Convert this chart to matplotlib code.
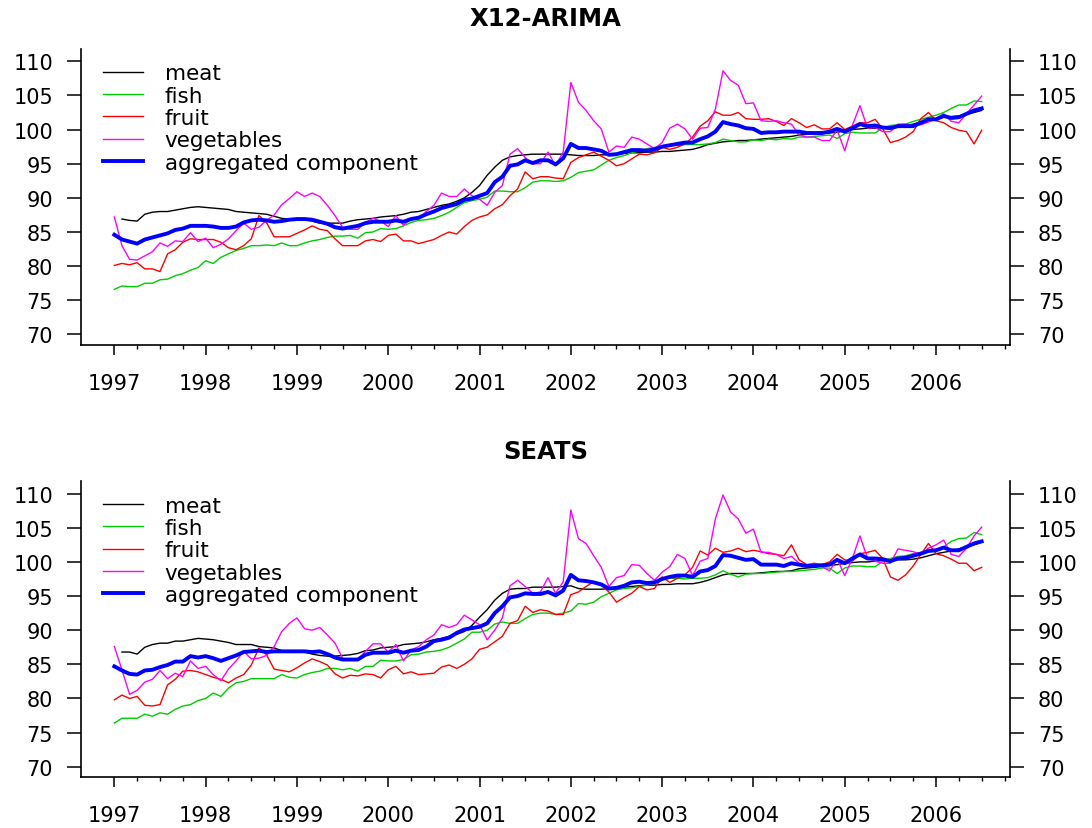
import matplotlib.pyplot as plt
import numpy as np

nan = np.nan

# monthly values, Jan 1997 .. Jul 2006 (115 months)
meat_x12 = [nan, 86.9, 86.7, 86.6, 87.6, 87.9, 88.0, 88.0, 88.2, 88.4, 88.6, 88.7,
            88.6, 88.5, 88.4, 88.3, 88.0, 87.9, 87.8, 87.7, 87.6, 87.3, 87.0, 86.9,
            86.9, 86.8, 86.6, 86.3, 86.3, 86.3, 86.3, 86.6, 86.8, 86.9, 87.0, 87.2,
            87.3, 87.4, 87.6, 87.9, 88.0, 88.3, 88.6, 88.9, 89.1, 89.5, 90.0, 90.8,
            91.8, 93.3, 94.5, 95.5, 96.0, 96.2, 96.3, 96.4, 96.4, 96.4, 96.4, 96.4,
            96.3, 96.2, 96.2, 96.2, 96.3, 96.3, 96.4, 96.5, 96.6, 96.6, 96.7, 96.7,
            96.8, 96.8, 96.9, 97.0, 97.1, 97.4, 97.8, 98.0, 98.2, 98.3, 98.4, 98.4,
            98.5, 98.6, 98.7, 98.8, 98.9, 99.0, 99.2, 99.3, 99.4, 99.4, 99.5, 99.6,
            99.8, 100.0, 100.1, 100.2, 100.2, 100.3, 100.4, 100.5, 100.6, 100.8, 101.1, 101.4,
            101.6, 101.8, 101.9, 102.0, 102.2, 102.5, 102.8]
fish_x12 = [76.6, 77.1, 77.0, 77.0, 77.5, 77.5, 78.0, 78.1, 78.6, 78.9, 79.4, 79.8,
            80.8, 80.4, 81.3, 81.8, 82.3, 82.6, 83.0, 83.0, 83.1, 83.0, 83.4, 83.0,
            83.0, 83.4, 83.7, 83.9, 84.2, 84.4, 84.4, 84.5, 84.1, 84.9, 85.0, 85.5,
            85.4, 85.5, 85.9, 86.4, 86.7, 86.8, 87.0, 87.4, 87.9, 88.6, 89.3, 89.6,
            89.8, 90.1, 91.0, 91.0, 90.9, 90.9, 91.5, 92.3, 92.5, 92.5, 92.4, 92.5,
            93.0, 93.7, 93.9, 94.1, 94.8, 95.5, 95.9, 96.2, 96.6, 96.9, 97.2, 97.4,
            97.6, 97.7, 97.7, 97.8, 97.8, 97.8, 97.9, 98.1, 98.6, 98.4, 98.2, 98.2,
            98.5, 98.4, 98.6, 98.5, 98.7, 98.6, 98.9, 98.9, 99.0, 99.1, 99.2, 98.7,
            99.4, 99.6, 99.5, 99.5, 99.5, 100.3, 100.6, 100.7, 100.8, 101.2, 101.5, 101.8,
            102.1, 102.5, 103.1, 103.6, 103.6, 104.2, 104.1]
fruit_x12 = [80.1, 80.4, 80.2, 80.5, 79.6, 79.6, 79.2, 81.8, 82.4, 83.5, 84.0, 83.9,
             83.9, 83.9, 83.5, 82.7, 82.4, 83.0, 84.0, 87.4, 86.4, 84.3, 84.3, 84.3,
             84.8, 85.3, 85.9, 85.4, 85.2, 84.0, 83.0, 83.0, 83.0, 83.7, 83.9, 83.6,
             84.5, 84.7, 83.7, 83.7, 83.3, 83.6, 83.9, 84.5, 85.0, 84.7, 85.8, 86.7,
             87.2, 87.5, 88.4, 89.0, 90.3, 91.3, 93.8, 92.8, 93.1, 93.1, 92.9, 92.8,
             95.2, 95.9, 96.3, 96.7, 96.1, 95.5, 94.7, 95.0, 95.7, 96.4, 96.3, 96.6,
             97.4, 97.1, 97.4, 97.9, 98.9, 100.5, 101.3, 102.6, 102.1, 102.1, 102.5, 101.6,
             101.5, 101.5, 101.6, 101.2, 100.6, 101.6, 101.0, 100.3, 100.7, 100.1, 100.1, 101.0,
             100.0, 100.5, 101.0, 101.0, 101.5, 100.1, 98.1, 98.4, 98.9, 99.7, 101.6, 102.5,
             101.3, 101.0, 100.3, 99.9, 99.7, 97.9, 99.9]
veg_x12 = [87.2, 83.0, 81.0, 80.9, 81.5, 82.1, 83.4, 82.9, 83.7, 83.6, 84.9, 83.6,
           84.1, 82.7, 83.2, 84.0, 85.2, 86.3, 85.4, 85.7, 86.7, 87.5, 89.0, 89.9,
           90.9, 90.2, 90.7, 90.2, 88.9, 87.4, 85.7, 85.4, 85.4, 86.4, 87.0, 86.6,
           85.8, 87.4, 86.0, 86.9, 86.9, 88.0, 88.9, 90.7, 90.2, 90.2, 91.3, 90.3,
           89.8, 88.9, 90.8, 91.8, 96.4, 97.2, 95.9, 95.0, 95.0, 96.7, 94.7, 96.7,
           106.9, 104.0, 102.8, 101.3, 100.1, 96.7, 97.6, 97.4, 98.9, 98.6, 97.9, 97.2,
           98.1, 100.2, 100.8, 100.1, 98.6, 100.2, 100.3, 103.0, 108.6, 107.2, 106.5, 103.8,
           103.9, 101.3, 101.2, 101.3, 101.0, 100.8, 99.2, 98.9, 98.9, 98.4, 98.4, 99.9,
           96.9, 100.6, 103.5, 100.2, 100.3, 99.7, 99.7, 100.8, 100.8, 100.6, 100.7, 101.1,
           101.6, 102.3, 101.2, 101.0, 102.3, 103.6, 104.9]
agg_x12 = [84.6, 83.9, 83.6, 83.3, 83.9, 84.2, 84.5, 84.8, 85.3, 85.5, 85.9, 85.9,
           85.9, 85.8, 85.6, 85.6, 85.8, 86.4, 86.7, 86.8, 86.7, 86.5, 86.6, 86.8,
           86.9, 86.9, 86.8, 86.5, 86.2, 85.7, 85.5, 85.7, 85.9, 86.3, 86.5, 86.5,
           86.5, 86.7, 86.5, 86.9, 87.1, 87.6, 88.0, 88.5, 88.8, 89.1, 89.7, 89.9,
           90.3, 90.7, 92.3, 93.1, 94.7, 94.9, 95.5, 95.1, 95.5, 95.5, 94.9, 95.8,
           97.9, 97.3, 97.3, 97.1, 96.9, 96.3, 96.4, 96.7, 97.0, 97.0, 96.9, 97.1,
           97.5, 97.7, 97.9, 98.1, 98.1, 98.6, 99.0, 99.7, 101.1, 100.8, 100.6, 100.2,
           100.1, 99.5, 99.6, 99.6, 99.7, 99.7, 99.7, 99.5, 99.5, 99.5, 99.7, 100.1,
           99.7, 100.2, 100.8, 100.5, 100.6, 100.3, 100.2, 100.5, 100.5, 100.5, 101.0, 101.5,
           101.5, 102.0, 101.7, 101.8, 102.3, 102.8, 103.1]

meat_seats = [nan, 86.8, 86.8, 86.5, 87.5, 87.9, 88.1, 88.1, 88.4, 88.4, 88.6, 88.8,
              88.7, 88.6, 88.4, 88.2, 87.9, 87.9, 87.9, 87.6, 87.5, 87.4, 87.0, 86.9,
              86.9, 86.8, 86.5, 86.3, 86.2, 86.2, 86.3, 86.4, 86.6, 87.0, 87.1, 87.4,
              87.5, 87.6, 87.9, 88.0, 88.1, 88.3, 88.6, 88.8, 89.1, 89.4, 89.8, 90.7,
              91.9, 93.0, 94.4, 95.4, 96.0, 96.1, 96.1, 96.3, 96.3, 96.3, 96.3, 96.4,
              96.5, 96.1, 96.0, 96.0, 96.0, 96.1, 96.2, 96.3, 96.4, 96.5, 96.6, 96.6,
              96.7, 96.7, 96.8, 96.8, 96.8, 97.0, 97.3, 97.7, 98.1, 98.3, 98.3, 98.3,
              98.3, 98.4, 98.5, 98.6, 98.6, 98.7, 99.0, 99.1, 99.2, 99.4, 99.5, 99.6,
              99.8, 99.9, 100.0, 100.0, 100.1, 100.2, 100.3, 100.3, 100.3, 100.4, 100.6, 100.9,
              101.2, 101.4, 101.6, 101.9, 102.2, 102.5, 102.9]
fish_seats = [76.4, 77.1, 77.1, 77.1, 77.7, 77.4, 77.9, 77.7, 78.4, 78.9, 79.1, 79.7,
              80.0, 80.8, 80.3, 81.5, 82.3, 82.5, 82.9, 82.9, 82.9, 82.9, 83.5, 83.1,
              83.0, 83.5, 83.8, 84.0, 84.4, 84.4, 84.2, 84.4, 84.0, 84.7, 84.7, 85.6,
              85.5, 85.5, 85.7, 86.4, 86.5, 86.8, 86.9, 87.1, 87.5, 88.1, 88.7, 89.7,
              89.7, 90.0, 90.9, 91.2, 91.0, 91.0, 91.7, 92.3, 92.5, 92.5, 92.3, 92.5,
              92.8, 93.9, 93.8, 94.1, 94.9, 95.4, 95.9, 96.1, 96.2, 96.4, 96.6, 96.9,
              97.5, 97.6, 97.6, 97.5, 97.6, 97.6, 97.7, 98.1, 98.7, 98.2, 97.8, 98.2,
              98.3, 98.3, 98.4, 98.5, 98.6, 98.6, 98.7, 98.8, 98.9, 99.1, 99.1, 98.3,
              99.1, 99.4, 99.4, 99.3, 99.3, 100.1, 100.5, 100.8, 100.9, 101.2, 101.4, 101.5,
              101.7, 102.2, 103.0, 103.4, 103.5, 104.3, 104.0]
fruit_seats = [79.8, 80.5, 80.0, 80.3, 79.0, 78.9, 79.1, 82.0, 82.8, 84.0, 84.1, 83.9,
               83.5, 83.1, 82.8, 82.3, 83.0, 83.5, 84.9, 87.4, 86.4, 84.3, 84.1, 83.9,
               84.5, 85.2, 85.8, 85.4, 84.9, 83.6, 83.0, 83.4, 83.3, 83.6, 83.5, 83.0,
               84.2, 84.7, 83.6, 83.9, 83.5, 83.6, 83.7, 84.6, 84.9, 84.4, 85.0, 85.8,
               87.2, 87.5, 88.3, 89.1, 91.0, 91.4, 93.5, 92.6, 93.0, 92.8, 92.3, 92.3,
               95.2, 95.6, 96.4, 97.1, 96.6, 95.6, 94.1, 94.8, 95.4, 96.4, 95.9, 96.1,
               97.8, 97.0, 97.6, 98.1, 99.2, 101.6, 101.0, 102.0, 101.4, 101.6, 102.0, 101.5,
               101.7, 101.5, 101.2, 101.1, 100.9, 102.5, 100.3, 99.6, 99.8, 99.6, 100.0, 101.1,
               100.3, 100.1, 101.2, 101.4, 101.7, 100.5, 97.8, 97.3, 98.1, 99.4, 101.1, 102.7,
               101.2, 100.9, 100.4, 99.8, 99.8, 98.7, 99.2]
veg_seats = [87.6, 84.2, 80.6, 81.2, 82.4, 82.8, 84.1, 82.9, 83.7, 83.2, 85.5, 84.4,
             84.7, 83.5, 82.6, 84.3, 85.5, 86.9, 85.8, 85.9, 86.3, 87.6, 89.8, 91.0,
             91.8, 90.2, 90.0, 90.4, 89.3, 88.1, 85.9, 85.7, 85.7, 86.9, 88.0, 88.0,
             86.8, 87.9, 85.5, 87.1, 87.6, 88.6, 89.3, 90.8, 90.4, 90.8, 92.2, 91.5,
             90.8, 88.6, 90.0, 91.8, 96.5, 97.3, 96.4, 95.4, 95.6, 97.7, 95.4, 97.1,
             107.6, 103.4, 102.7, 100.9, 99.2, 96.4, 97.7, 98.0, 99.6, 99.5, 98.3, 97.3,
             98.5, 99.3, 101.1, 100.5, 98.0, 100.1, 100.5, 106.3, 109.8, 107.3, 106.3, 104.2,
             104.8, 101.4, 101.4, 101.1, 100.5, 100.8, 99.8, 99.4, 99.4, 99.3, 98.7, 100.4,
             98.0, 100.5, 103.8, 100.5, 100.1, 99.8, 99.8, 101.9, 101.7, 101.5, 101.1, 102.0,
             102.5, 103.2, 101.1, 100.8, 102.0, 103.8, 105.1]
agg_seats = [84.7, 84.1, 83.6, 83.5, 84.1, 84.2, 84.6, 84.9, 85.4, 85.4, 86.2, 86.0,
             86.2, 85.9, 85.5, 85.9, 86.3, 86.8, 86.9, 87.0, 86.8, 86.9, 86.9, 86.9,
             86.9, 86.9, 86.8, 86.9, 86.5, 86.0, 85.7, 85.7, 85.7, 86.4, 86.7, 86.7,
             86.7, 87.0, 86.7, 87.0, 87.1, 87.6, 88.4, 88.6, 88.9, 89.6, 90.1, 90.3,
             90.5, 91.0, 92.5, 93.5, 94.8, 95.0, 95.4, 95.3, 95.3, 95.6, 95.1, 95.8,
             98.1, 97.3, 97.2, 97.0, 96.7, 96.1, 96.2, 96.5, 97.0, 97.1, 96.9, 97.0,
             97.5, 97.8, 98.0, 98.0, 97.8, 98.6, 98.8, 99.4, 101.0, 100.9, 100.6, 100.3,
             100.4, 99.6, 99.6, 99.6, 99.4, 99.8, 99.6, 99.4, 99.4, 99.5, 99.6, 100.3,
             99.8, 100.5, 101.1, 100.5, 100.5, 100.4, 100.1, 100.5, 100.6, 100.9, 101.2, 101.6,
             101.7, 102.1, 101.7, 101.7, 102.2, 102.7, 103.0]

labels = ['meat', 'fish', 'fruit', 'vegetables', 'aggregated component']
colors = ['black', '#00cd00', '#ff0000', '#ff00ff', '#0000ff']
widths = [1.0, 1.0, 1.0, 1.0, 2.8]
years = list(range(1997, 2007))

t = 1997 + np.arange(len(agg_x12)) / 12.0

panels = [
    ('X12-ARIMA', [meat_x12, fish_x12, fruit_x12, veg_x12, agg_x12]),
    ('SEATS', [meat_seats, fish_seats, fruit_seats, veg_seats, agg_seats]),
]

fig = plt.figure(figsize=(10.92, 8.29), dpi=100)
rects = [[0.0742, 0.5826, 0.8507, 0.3571], [0.0742, 0.0611, 0.8507, 0.3571]]

for rect, (title, series) in zip(rects, panels):
    ax = fig.add_axes(rect)
    for vals, lab, col, lw in zip(series, labels, colors, widths):
        ax.plot(t, vals, color=col, lw=lw, label=lab)

    ax.set_xlim(1996.635, 2006.81)
    ax.set_ylim(68.45, 111.8)
    ax.set_xticks(years)
    ax.set_xticks(np.arange(1997, 2007, 0.25), minor=True)
    ax.set_yticks(range(70, 111, 5))

    ax.spines['top'].set_visible(False)
    for s in ['left', 'right', 'bottom']:
        ax.spines[s].set_linewidth(1.2)

    ax.tick_params(axis='x', which='major', direction='out', length=7, width=1.1,
                   pad=13, labelsize=15)
    ax.tick_params(axis='x', which='minor', direction='out', length=3, width=1.0)
    ax.tick_params(axis='y', which='major', direction='out', length=10, width=1.1,
                   left=True, right=True, labelleft=True, labelright=True,
                   labelsize=15, pad=10)

    ax.set_title(title, fontsize=17.5, fontweight='bold', pad=17)

    ax.legend(loc='upper left', bbox_to_anchor=(0.024, 0.952), frameon=False,
              fontsize=15.5, handlelength=1.85, handletextpad=1.0,
              labelspacing=0.11, borderpad=0, borderaxespad=0)

plt.savefig('out.png', dpi=100)
